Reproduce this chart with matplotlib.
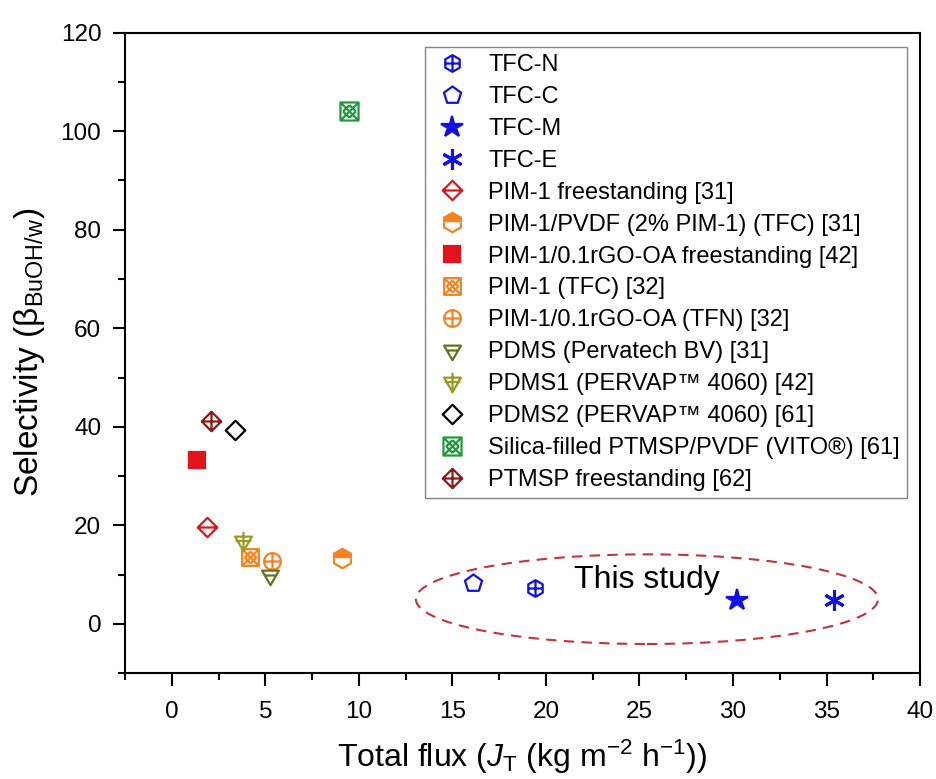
import matplotlib
matplotlib.use("Agg")
import matplotlib.pyplot as plt
import numpy as np
from matplotlib.path import Path
from matplotlib.patches import Ellipse
from matplotlib.ticker import MultipleLocator

plt.rcParams['font.family'] = ['Liberation Sans', 'DejaVu Sans']
plt.rcParams['mathtext.fontset'] = 'custom'
plt.rcParams['mathtext.rm'] = 'Liberation Sans'
plt.rcParams['mathtext.it'] = 'Liberation Sans:italic'

# data
labels = ["TFC-N", "TFC-C", "TFC-M", "TFC-E",
          "PIM-1 freestanding [31]",
          "PIM-1/PVDF (2% PIM-1) (TFC) [31]",
          "PIM-1/0.1rGO-OA freestanding [42]",
          "PIM-1 (TFC) [32]",
          "PIM-1/0.1rGO-OA (TFN) [32]",
          "PDMS (Pervatech BV) [31]",
          "PDMS1 (PERVAP\u2122 4060) [42]",
          "PDMS2 (PERVAP\u2122 4060) [61]",
          "Silica-filled PTMSP/PVDF (VITO\u00ae) [61]",
          "PTMSP freestanding [62]"]
flux = [19.4, 16.1, 30.2, 35.4, 1.9, 9.1, 1.35, 4.2, 5.35, 5.25, 3.8, 3.4, 9.5, 2.1]
selectivity = [7.3, 8.2, 4.9, 4.9, 19.7, 13.3, 33.3, 13.5, 12.7, 10.0, 16.8, 39.4, 104.2, 41.2]

# "This study" ellipse
ell_center = (25.4, 5.0)
ell_w, ell_h = 24.7, 18.2


def shape(n, rot=90, extra=()):
    ang = np.deg2rad(rot + np.arange(n) * 360.0 / n)
    pts = np.c_[np.cos(ang), np.sin(ang)]
    verts = list(pts) + [pts[0]]
    codes = [Path.MOVETO] + [Path.LINETO] * (n - 1) + [Path.CLOSEPOLY]
    for a, b in extra:
        verts += [a, b]
        codes += [Path.MOVETO, Path.LINETO]
    return Path(verts, codes)


plus = [((-1, 0), (1, 0)), ((0, -1), (0, 1))]
hline = [((-1, 0), (1, 0))]
boxcross = [((-0.707, -0.707), (0.707, 0.707)), ((-0.707, 0.707), (0.707, -0.707)),
            ((-0.5, 0), (0, 0.5)), ((0, 0.5), (0.5, 0)), ((0.5, 0), (0, -0.5)), ((0, -0.5), (-0.5, 0))]

circ = Path.unit_circle()
circ_plus = Path(np.vstack([circ.vertices, [[-1, 0], [1, 0], [0, -1], [0, 1]]]),
                 np.concatenate([circ.codes, [Path.MOVETO, Path.LINETO, Path.MOVETO, Path.LINETO]]))

tri_down_h = shape(3, -90, [((-0.5, 0.0), (0.5, 0.0))])
tri_down_p = shape(3, -90, [((-0.8, 0.05), (0.8, 0.05)), ((0, -1), (0, 1.0))])

blue = '#1010e6'
orange = '#f58420'
red = '#e3131b'

styles = [
    dict(marker=shape(6, 90, [((-0.87, 0), (0.87, 0)), ((0, -1), (0, 1))]), color=blue, mfc='none', ms=12),
    dict(marker=shape(5, 90), color=blue, mfc='none', ms=13),
    dict(marker='*', color=blue, mfc=blue, ms=16),
    dict(marker=(6, 2, 0), color=blue, ms=15, mew=2.2),
    dict(marker=shape(4, 90, hline), color=red, mfc='none', ms=14),
    dict(marker='h', color=orange, mfc=orange, fillstyle='top', markerfacecoloralt='white', ms=14),
    dict(marker='s', color=red, mfc=red, ms=11),
    dict(marker=shape(4, 45, boxcross), color=orange, mfc='none', ms=12),
    dict(marker=circ_plus, color=orange, mfc='none', ms=12),
    dict(marker=tri_down_h, color='#63731c', mfc='none', ms=14),
    dict(marker=tri_down_p, color='#9a9a1e', mfc='none', ms=14),
    dict(marker=shape(4, 90), color='black', mfc='none', ms=14),
    dict(marker=shape(4, 45, boxcross), color='#219a3c', mfc='none', ms=13),
    dict(marker=shape(4, 90, plus), color='#8b1a1a', mfc='none', ms=14),
]

fig = plt.figure(figsize=(9.36, 7.79), dpi=100)
ax = fig.add_axes([0.1335, 0.136, 0.8495, 0.822])

for x, y, lab, st in zip(flux, selectivity, labels, styles):
    st = dict(st)
    ax.plot([x], [y], linestyle='none', label=lab, mew=st.pop('mew', 1.6), **st)

ax.add_patch(Ellipse(ell_center, ell_w, ell_h, fill=False, edgecolor='#c2333c',
                     linestyle=(0, (5, 3.5)), linewidth=1.5))
ax.text(25.4, 8.9, "This study", fontsize=23, ha='center', va='center')

ax.set_xlim(-2.5, 40)
ax.set_ylim(-10, 120)
ax.xaxis.set_major_locator(MultipleLocator(5))
ax.xaxis.set_minor_locator(MultipleLocator(2.5))
ax.yaxis.set_major_locator(MultipleLocator(20))
ax.yaxis.set_minor_locator(MultipleLocator(10))
ax.tick_params(which='major', direction='out', length=9, width=1.5, labelsize=17.5, pad=8)
ax.tick_params(axis='x', which='major', pad=11)
ax.tick_params(which='minor', direction='out', length=5, width=1.5)
for sp in ax.spines.values():
    sp.set_linewidth(1.5)

ax.set_xlabel("Total flux ($J_\\mathrm{T}$ (kg m$^{-2}$ h$^{-1}$))", fontsize=23, labelpad=11)
ax.set_ylabel("Selectivity ($\\mathrm{\\beta}_\\mathrm{BuOH/w}$)", fontsize=24, labelpad=10)

leg = ax.legend(loc='upper right', bbox_to_anchor=(0.9836, 0.9777), borderaxespad=0,
                fontsize=17, frameon=True, fancybox=False, edgecolor='#666666',
                labelspacing=0.42, borderpad=0.3, handlelength=1.7, handletextpad=0.7,
                numpoints=1)
leg.get_frame().set_linewidth(1.0)

fig.savefig("out.png", dpi=100)
